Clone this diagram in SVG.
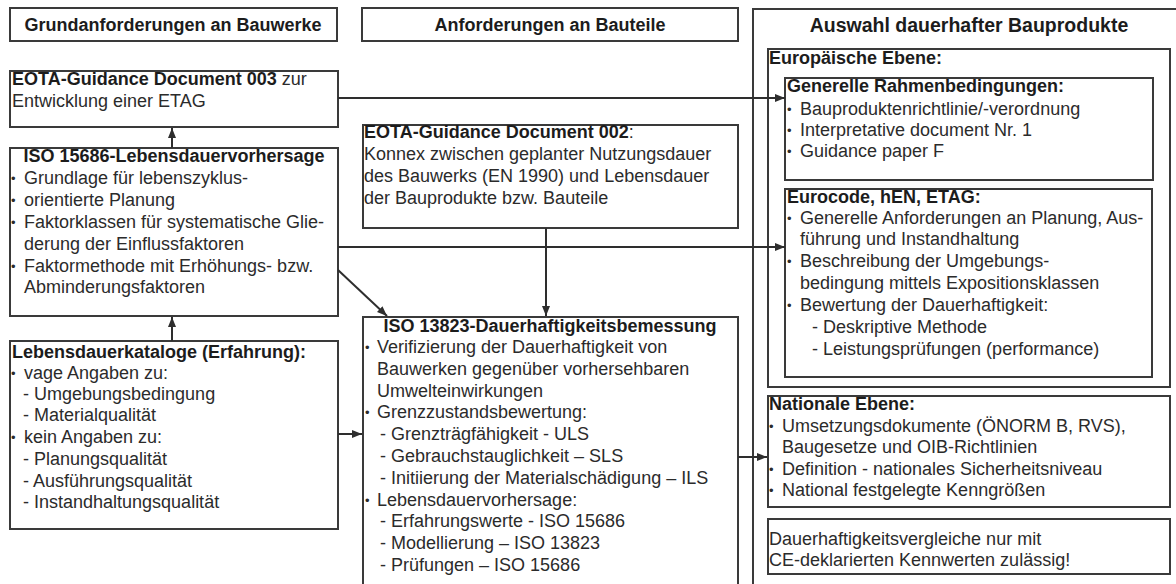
<svg xmlns="http://www.w3.org/2000/svg" width="1176" height="584" viewBox="0 0 1176 584">
<defs>
<style>
.box{fill:#ffffff;stroke:#3a3a3a;stroke-width:2}
.t{font-family:"Liberation Sans",Arial,sans-serif;font-size:18px;fill:#2b2b2b}
.b{font-weight:bold;fill:#1c1c1c}
.bu{font-size:13px}
.c{stroke:#2e2e2e;stroke-width:2;fill:none}
</style>
<marker id="ah" markerUnits="userSpaceOnUse" markerWidth="11" markerHeight="9" refX="10" refY="4" orient="auto">
<path d="M0,0 L10,4 L0,8 z" fill="#2e2e2e"/>
</marker>
</defs>
<rect width="1176" height="584" fill="#ffffff"/>

<g id="hdr-bauwerke">
<rect class="box" x="10" y="8" width="327" height="33"/>
<text class="t b" x="173" y="31" text-anchor="middle">Grundanforderungen an Bauwerke</text>
</g>

<g id="hdr-bauteile">
<rect class="box" x="362" y="8" width="376" height="33"/>
<text class="t b" x="550" y="31" text-anchor="middle">Anforderungen an Bauteile</text>
</g>

<g id="hdr-bauprodukte">
<rect class="box" x="753" y="9" width="440" height="600"/>
<text class="t b" x="969" y="32" text-anchor="middle" style="font-size:19.5px">Auswahl dauerhafter Bauprodukte</text>
</g>

<g id="eota003">
<rect class="box" x="10" y="71" width="328" height="56"/>
<text class="t" x="12" y="85"><tspan class="b">EOTA-Guidance Document 003</tspan> zur</text>
<text class="t" x="12" y="107">Entwicklung einer ETAG</text>
</g>

<g id="iso15686">
<rect class="box" x="10" y="148" width="328" height="168"/>
<text class="t b" x="174" y="162" text-anchor="middle">ISO 15686-Lebensdauervorhersage</text>
<text class="t"><tspan class="bu" x="11" y="183">•</tspan><tspan x="24" y="184">Grundlage für lebenszyklus-</tspan></text>
<text class="t"><tspan class="bu" x="11" y="205">•</tspan><tspan x="24" y="206">orientierte Planung</tspan></text>
<text class="t"><tspan class="bu" x="11" y="227">•</tspan><tspan x="24" y="228">Faktorklassen für systematische Glie-</tspan></text>
<text class="t" x="24" y="250">derung der Einflussfaktoren</text>
<text class="t"><tspan class="bu" x="11" y="271">•</tspan><tspan x="24" y="272">Faktormethode mit Erhöhungs- bzw.</tspan></text>
<text class="t" x="24" y="293">Abminderungsfaktoren</text>
</g>

<g id="lebensdauerkataloge">
<rect class="box" x="10" y="341" width="328" height="188"/>
<text class="t b" x="12" y="358">Lebensdauerkataloge (Erfahrung):</text>
<text class="t"><tspan class="bu" x="11" y="378">•</tspan><tspan x="24" y="379">vage Angaben zu:</tspan></text>
<text class="t" x="23" y="400">- Umgebungsbedingung</text>
<text class="t" x="23" y="421">- Materialqualität</text>
<text class="t"><tspan class="bu" x="11" y="442">•</tspan><tspan x="24" y="443">kein Angaben zu:</tspan></text>
<text class="t" x="23" y="465">- Planungsqualität</text>
<text class="t" x="23" y="487">- Ausführungsqualität</text>
<text class="t" x="23" y="508">- Instandhaltungsqualität</text>
</g>

<g id="eota002">
<rect class="box" x="363" y="125" width="375" height="103"/>
<text class="t" x="364" y="138"><tspan class="b">EOTA-Guidance Document 002</tspan>:</text>
<text class="t" x="364" y="160">Konnex zwischen geplanter Nutzungsdauer</text>
<text class="t" x="364" y="182">des Bauwerks (EN 1990) und Lebensdauer</text>
<text class="t" x="364" y="204">der Bauprodukte bzw. Bauteile</text>
</g>

<g id="iso13823">
<rect class="box" x="363" y="317" width="375" height="300"/>
<text class="t b" x="550" y="332" text-anchor="middle">ISO 13823-Dauerhaftigkeitsbemessung</text>
<text class="t"><tspan class="bu" x="365" y="352">•</tspan><tspan x="377" y="353">Verifizierung der Dauerhaftigkeit von</tspan></text>
<text class="t" x="377" y="375">Bauwerken gegenüber vorhersehbaren</text>
<text class="t" x="377" y="397">Umwelteinwirkungen</text>
<text class="t"><tspan class="bu" x="365" y="417">•</tspan><tspan x="377" y="418">Grenzzustandsbewertung:</tspan></text>
<text class="t" x="380" y="440">- Grenzträgfähigkeit - ULS</text>
<text class="t" x="380" y="462">- Gebrauchstauglichkeit – SLS</text>
<text class="t" x="380" y="484">- Initiierung der Materialschädigung – ILS</text>
<text class="t"><tspan class="bu" x="365" y="505">•</tspan><tspan x="377" y="506">Lebensdauervorhersage:</tspan></text>
<text class="t" x="380" y="527">- Erfahrungswerte - ISO 15686</text>
<text class="t" x="380" y="549">- Modellierung – ISO 13823</text>
<text class="t" x="380" y="571">- Prüfungen – ISO 15686</text>
</g>

<g id="europaeische-ebene">
<rect class="box" x="768" y="49" width="402" height="338"/>
<text class="t b" x="769" y="64">Europäische Ebene:</text>
</g>

<g id="generelle-rahmenbedingungen">
<rect class="box" x="785" y="78" width="368" height="102"/>
<text class="t b" x="787" y="92">Generelle Rahmenbedingungen:</text>
<text class="t"><tspan class="bu" x="787" y="114">•</tspan><tspan x="800" y="115">Bauproduktenrichtlinie/-verordnung</tspan></text>
<text class="t"><tspan class="bu" x="787" y="135">•</tspan><tspan x="800" y="136">Interpretative document Nr. 1</tspan></text>
<text class="t"><tspan class="bu" x="787" y="156">•</tspan><tspan x="800" y="157">Guidance paper F</tspan></text>
</g>

<g id="eurocode">
<rect class="box" x="785" y="189" width="367" height="188"/>
<text class="t b" x="787" y="203">Eurocode, hEN, ETAG:</text>
<text class="t"><tspan class="bu" x="787" y="223">•</tspan><tspan x="800" y="224">Generelle Anforderungen an Planung, Aus-</tspan></text>
<text class="t" x="800" y="245">führung und Instandhaltung</text>
<text class="t"><tspan class="bu" x="787" y="266">•</tspan><tspan x="800" y="267">Beschreibung der Umgebungs-</tspan></text>
<text class="t" x="800" y="289">bedingung mittels Expositionsklassen</text>
<text class="t"><tspan class="bu" x="787" y="310">•</tspan><tspan x="800" y="311">Bewertung der Dauerhaftigkeit:</tspan></text>
<text class="t" x="812" y="333">- Deskriptive Methode</text>
<text class="t" x="812" y="355">- Leistungsprüfungen (performance)</text>
</g>

<g id="nationale-ebene">
<rect class="box" x="768" y="396" width="402" height="111"/>
<text class="t b" x="769" y="410">Nationale Ebene:</text>
<text class="t"><tspan class="bu" x="769" y="431">•</tspan><tspan x="782" y="432">Umsetzungsdokumente (ÖNORM B, RVS),</tspan></text>
<text class="t" x="782" y="453">Baugesetze und OIB-Richtlinien</text>
<text class="t"><tspan class="bu" x="769" y="474">•</tspan><tspan x="782" y="475">Definition - nationales Sicherheitsniveau</tspan></text>
<text class="t"><tspan class="bu" x="769" y="495">•</tspan><tspan x="782" y="496">National festgelegte Kenngrößen</tspan></text>
</g>

<g id="ce-hinweis">
<rect class="box" x="768" y="519" width="402" height="55"/>
<text class="t" x="769" y="545">Dauerhaftigkeitsvergleiche nur mit</text>
<text class="t" x="769" y="566">CE-deklarierten Kennwerten zulässig!</text>
</g>

<g id="connectors">
<line class="c" x1="172" y1="148" x2="172" y2="128" marker-end="url(#ah)"/>
<line class="c" x1="172" y1="341" x2="172" y2="317" marker-end="url(#ah)"/>
<line class="c" x1="338" y1="98" x2="785" y2="98" marker-end="url(#ah)"/>
<line class="c" x1="338" y1="247" x2="785" y2="247" marker-end="url(#ah)"/>
<line class="c" x1="338" y1="270" x2="387" y2="316" marker-end="url(#ah)"/>
<line class="c" x1="546" y1="228" x2="546" y2="316" marker-end="url(#ah)"/>
<line class="c" x1="338" y1="434" x2="362" y2="434" marker-end="url(#ah)"/>
<line class="c" x1="738" y1="457" x2="767" y2="457" marker-end="url(#ah)"/>
</g>
</svg>
